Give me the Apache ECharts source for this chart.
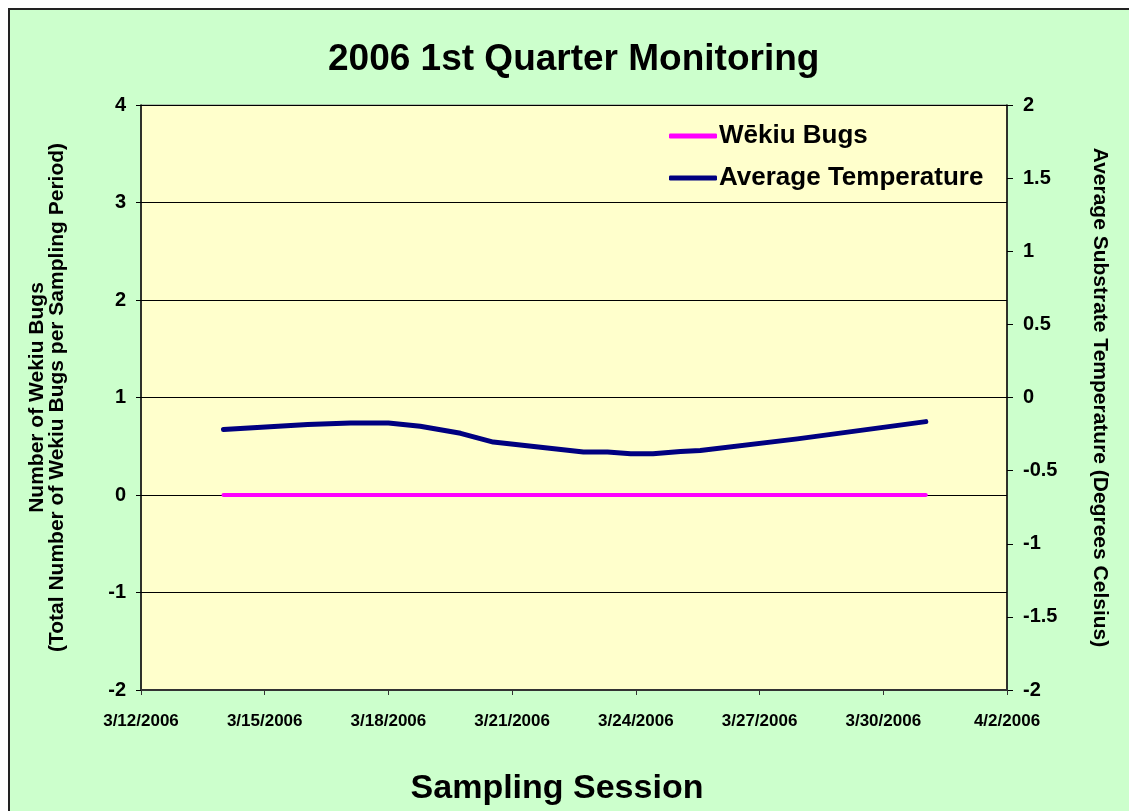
<!DOCTYPE html>
<html>
<head>
<meta charset="utf-8">
<script src="https://cdn.jsdelivr.net/npm/echarts@6/dist/echarts.min.js"></script>
<style>
html,body{margin:0;padding:0;background:#fff;}
#chart{width:1129px;height:811px;}
</style>
</head>
<body>
<div id="chart"></div>
<script>
// ---- data ----
var startDate = '2006-03-12';
var endDate = '2006-04-02';
var tempDates = ['2006-03-14 00:00','2006-03-16 01:00','2006-03-17 02:00','2006-03-18 00:00','2006-03-18 18:30','2006-03-19 18:00','2006-03-20 13:00','2006-03-22 17:30','2006-03-23 07:30','2006-03-23 21:00','2006-03-24 10:00','2006-03-25 02:00','2006-03-25 13:30','2006-03-27 22:00','2006-03-31 00:45'];
var tempValues = [-0.219,-0.185,-0.174,-0.174,-0.196,-0.245,-0.305,-0.373,-0.373,-0.385,-0.385,-0.369,-0.362,-0.283,-0.165];
var bugDates = ['2006-03-14 00:00','2006-03-17 02:00','2006-03-20 13:00','2006-03-23 21:00','2006-03-27 22:00','2006-03-31 00:45'];
var bugValues = [0,0,0,0,0,0];

function toMs(s){
  var p = s.split(' ');
  var d = p[0].split('-');
  var t = (p[1]||'00:00').split(':');
  return Date.UTC(+d[0], +d[1]-1, +d[2], +t[0], +t[1]);
}
var DAY = 86400000;
var t0 = toMs(startDate);
var totalDays = (toMs(endDate) - t0) / DAY;
function dayOf(s){ return (toMs(s) - t0) / DAY; }
function fmtDay(v){
  var d = new Date(t0 + v*DAY);
  return (d.getUTCMonth()+1) + '/' + d.getUTCDate() + '/' + d.getUTCFullYear();
}
var tempData = tempDates.map(function(s,i){ return [dayOf(s), tempValues[i]]; });
var bugData = bugDates.map(function(s,i){ return [dayOf(s), bugValues[i]]; });

var FONT = "'Liberation Sans', Arial, sans-serif";
var chart = echarts.init(document.getElementById('chart'));
chart.setOption({
  backgroundColor: '#ffffff',
  animation: false,
  graphic: { elements: [
    { type: 'rect', z: -100, silent: true,
      shape: { x: 9, y: 9, width: 1200, height: 900 },
      style: { fill: '#CCFFCC', stroke: '#222', lineWidth: 2 } }
  ]},
  title: {
    text: '2006 1st Quarter Monitoring',
    left: 323, top: 36,
    textStyle: { fontFamily: FONT, fontSize: 37, fontWeight: 'bold', color: '#000' }
  },
  legend: {
    orient: 'vertical', left: 664, top: 118, itemGap: 16,
    icon: 'roundRect', itemWidth: 48, itemHeight: 5,
    textStyle: { fontFamily: FONT, fontSize: 26, fontWeight: 'bold', color: '#000', padding: [0,0,0,-3] },
    data: ['Wēkiu Bugs', 'Average Temperature']
  },
  grid: {
    left: 141, right: 122, top: 105, bottom: 119,
    show: true, backgroundColor: '#FFFFCC', borderColor: '#888', borderWidth: 1
  },
  xAxis: {
    type: 'value', min: 0, max: totalDays, interval: 3,
    name: 'Sampling Session', nameLocation: 'middle', nameGap: 82,
    nameTextStyle: { fontFamily: FONT, fontSize: 34, fontWeight: 'bold', color: '#000', padding: [0, 34, 0, 0] },
    axisLine: { onZero: false, lineStyle: { color: '#333', width: 2 } },
    axisTick: { show: true, length: 5, lineStyle: { color: '#333' } },
    splitLine: { show: false },
    axisLabel: { formatter: fmtDay, margin: 23, fontFamily: FONT, fontSize: 17, fontWeight: 'bold', color: '#000' }
  },
  yAxis: [
    {
      type: 'value', min: -2, max: 4, interval: 1, position: 'left',
      name: 'Number of Wekiu Bugs\n(Total Number of Wekiu Bugs per Sampling Period)',
      nameLocation: 'middle', nameRotate: 90, nameGap: 74,
      nameTextStyle: { fontFamily: FONT, fontSize: 21, fontWeight: 'bold', color: '#000', lineHeight: 20 },
      axisLine: { show: true, onZero: false, lineStyle: { color: '#000', width: 1.5 } },
      axisTick: { show: true, length: 5, lineStyle: { color: '#000' } },
      splitLine: { show: true, lineStyle: { color: '#000', width: 1 } },
      axisLabel: { margin: 15, fontFamily: FONT, fontSize: 20, fontWeight: 'bold', color: '#000' }
    },
    {
      type: 'value', min: -2, max: 2, interval: 0.5, position: 'right',
      name: 'Average Substrate Temperature (Degrees Celsius)',
      nameLocation: 'middle', nameRotate: -90, nameGap: 82,
      nameTextStyle: { fontFamily: FONT, fontSize: 21, fontWeight: 'bold', color: '#000' },
      axisLine: { show: true, onZero: false, lineStyle: { color: '#000', width: 1.5 } },
      axisTick: { show: true, length: 6, lineStyle: { color: '#000' } },
      splitLine: { show: false },
      axisLabel: { margin: 16, fontFamily: FONT, fontSize: 20, fontWeight: 'bold', color: '#000' }
    }
  ],
  series: [
    {
      name: 'Wēkiu Bugs', type: 'line', yAxisIndex: 0, data: bugData,
      showSymbol: false, symbol: 'none',
      lineStyle: { color: '#FF00FF', width: 4, cap: 'round' },
      itemStyle: { color: '#FF00FF' }, z: 3
    },
    {
      name: 'Average Temperature', type: 'line', yAxisIndex: 1, data: tempData,
      showSymbol: false, symbol: 'none',
      lineStyle: { color: '#000080', width: 5, cap: 'round', join: 'round' },
      itemStyle: { color: '#000080' }, z: 4
    }
  ]
});
</script>
</body>
</html>
